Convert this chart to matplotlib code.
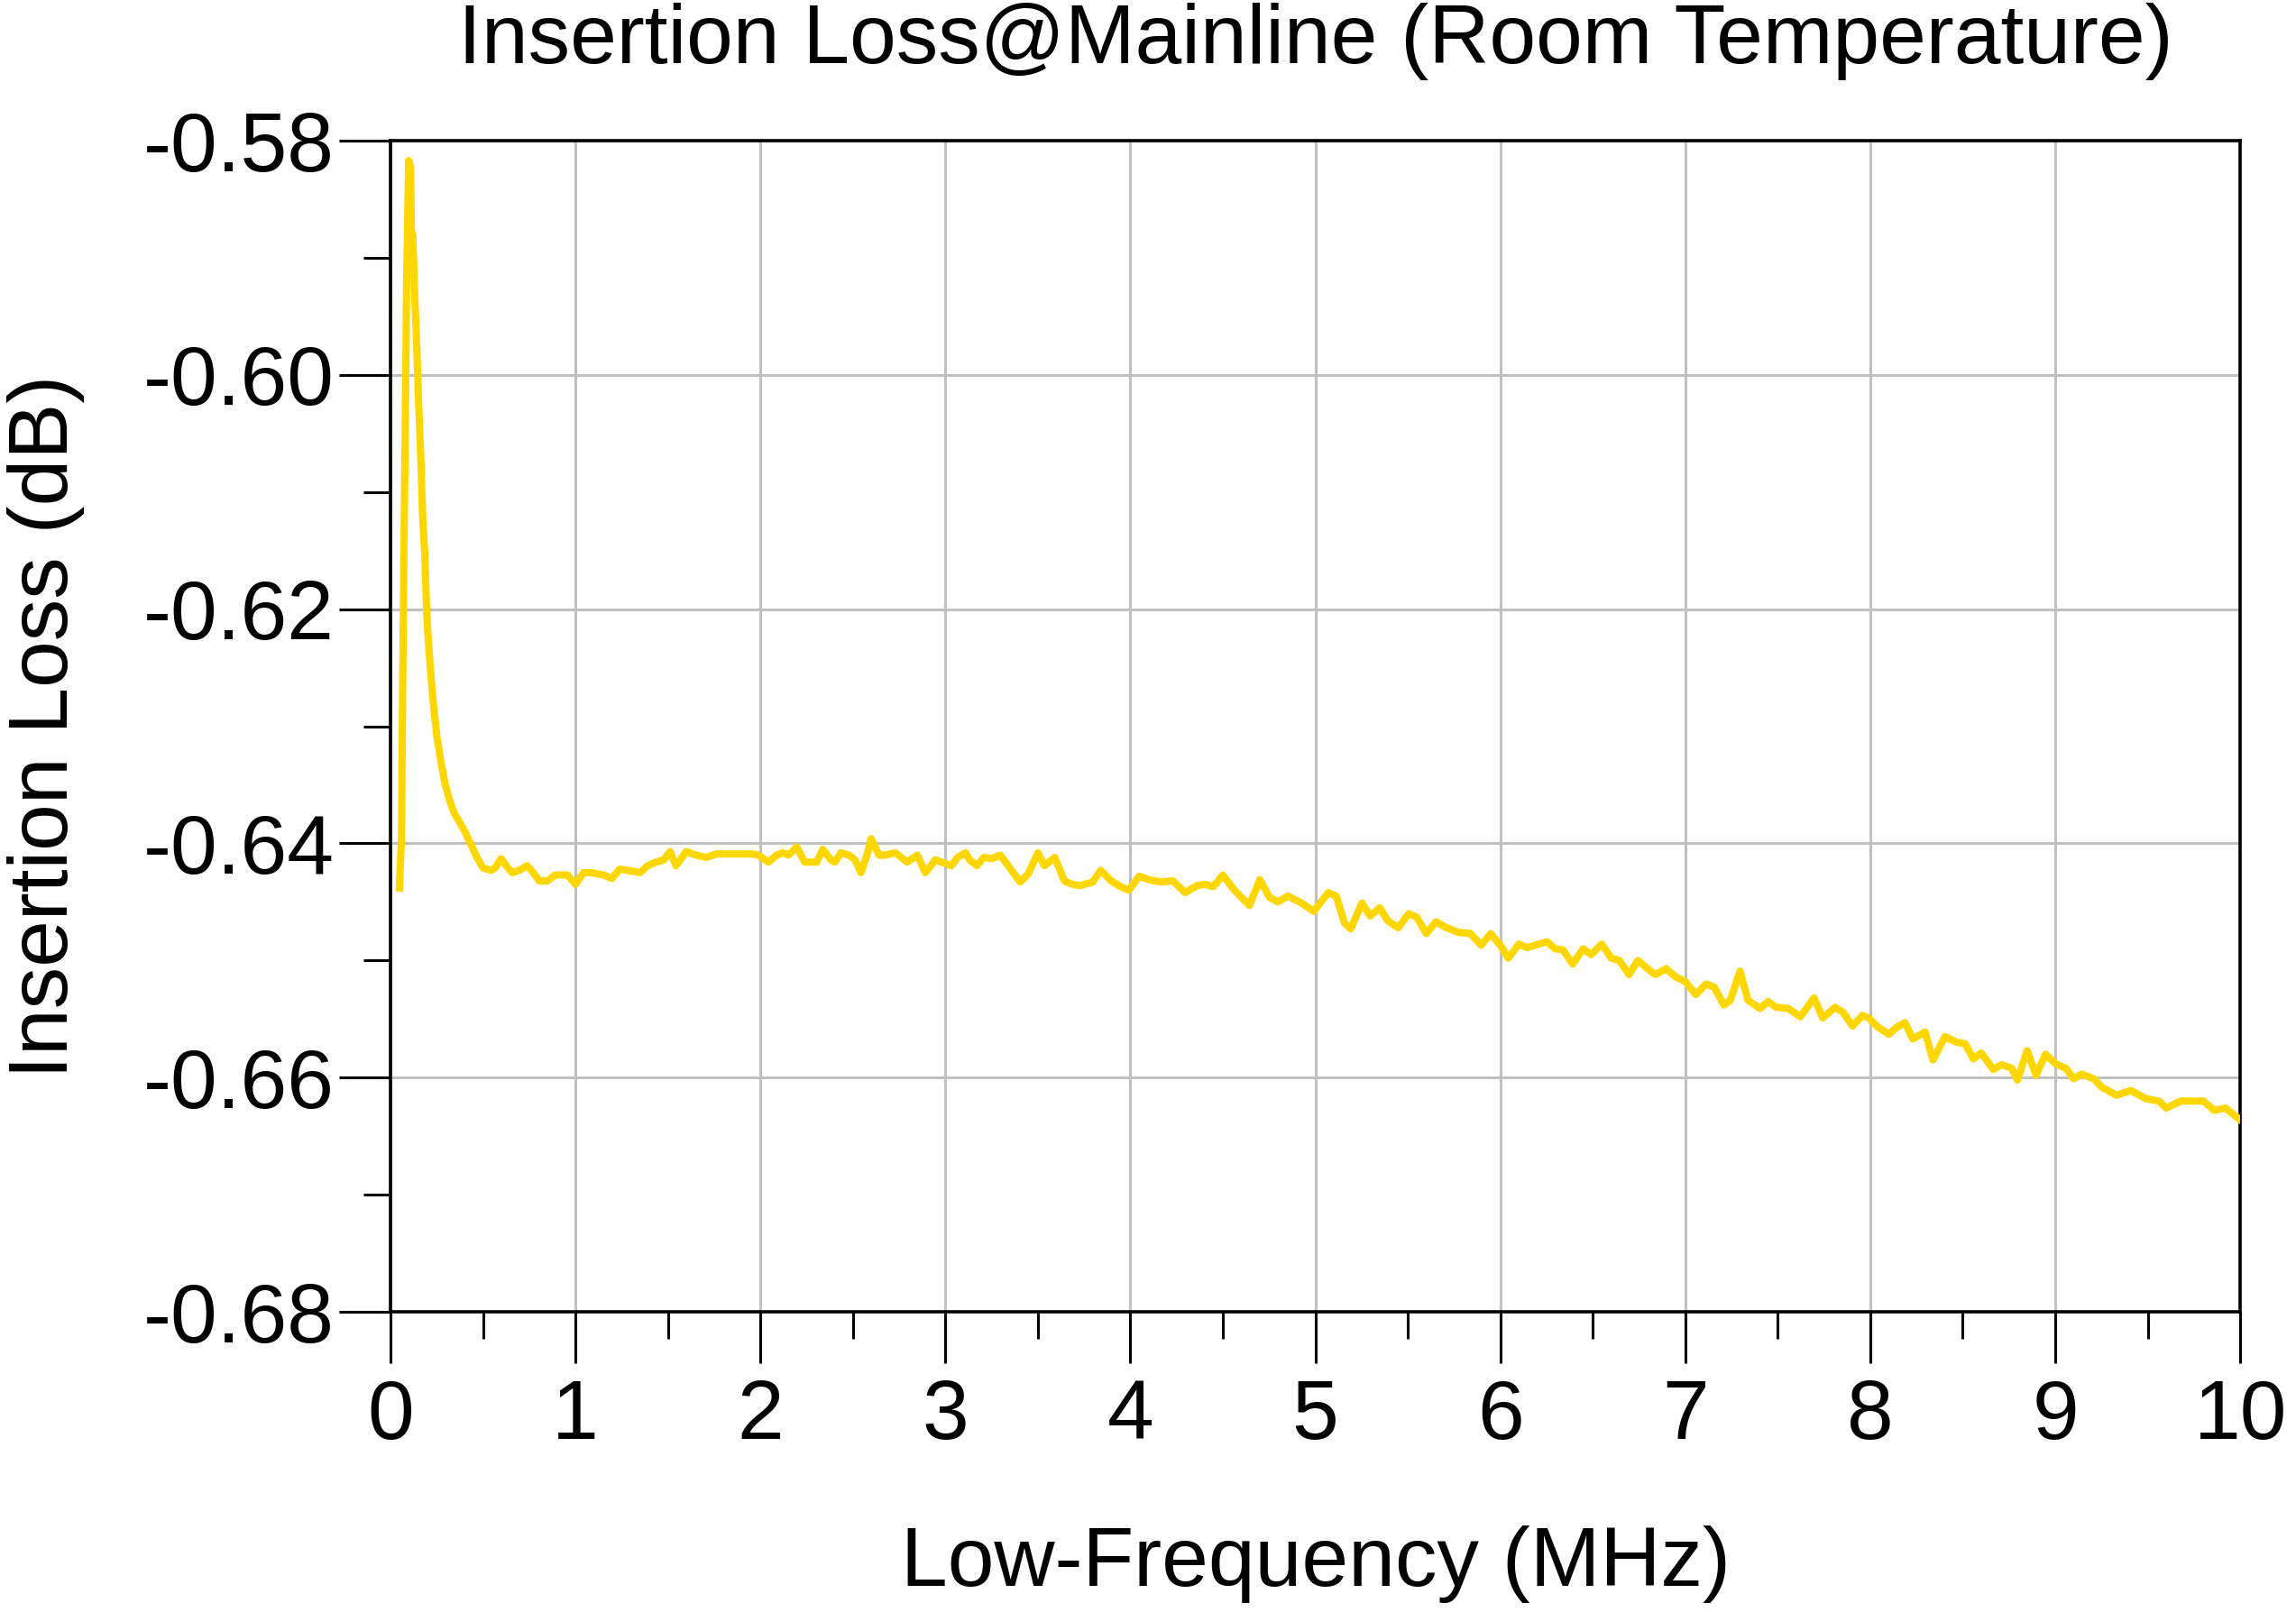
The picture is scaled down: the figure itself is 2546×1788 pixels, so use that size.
import matplotlib
matplotlib.use("Agg")
import matplotlib.pyplot as plt
from matplotlib.ticker import MultipleLocator, FormatStrFormatter

# --- данные (частота в МГц, потери в дБ) ---
# начальный выброс и участок 0..3.2 МГц
freq_low = [0.048, 0.059, 0.065, 0.072, 0.080, 0.087, 0.098, 0.109, 0.114, 0.120,
            0.130, 0.141, 0.152, 0.163, 0.174, 0.185, 0.196, 0.207, 0.222, 0.235,
            0.250, 0.272, 0.293, 0.315, 0.343, 0.370, 0.402, 0.435, 0.467, 0.500,
            0.543, 0.565, 0.598, 0.626, 0.657, 0.696, 0.739, 0.772, 0.804, 0.848,
            0.891, 0.957, 1.000, 1.043, 1.087, 1.152, 1.196, 1.239, 1.283, 1.348,
            1.391, 1.435, 1.478, 1.511, 1.543, 1.576, 1.598, 1.652, 1.707, 1.761,
            1.804, 1.957, 1.989, 2.043, 2.087, 2.120, 2.152, 2.196, 2.239, 2.261,
            2.304, 2.337, 2.380, 2.402, 2.435, 2.478, 2.511, 2.543, 2.576, 2.598,
            2.641, 2.674, 2.728, 2.761, 2.793, 2.848, 2.891, 2.946, 2.978, 3.033,
            3.065, 3.109, 3.130, 3.170, 3.207]
loss_low = [-0.6438, -0.6396, -0.6277, -0.6158, -0.6038, -0.5919, -0.5817, -0.5823, -0.5900, -0.5880,
            -0.5930, -0.5972, -0.6025, -0.6069, -0.6122, -0.6153, -0.6206, -0.6233, -0.6264, -0.6286,
            -0.6308, -0.6330, -0.6348, -0.6361, -0.6374, -0.6381, -0.6390, -0.6401, -0.6412, -0.6421,
            -0.6423, -0.6421, -0.6413, -0.6419, -0.6425, -0.6423, -0.6419, -0.6425, -0.6432, -0.6432,
            -0.6427, -0.6427, -0.6435, -0.6425, -0.6425, -0.6427, -0.6430, -0.6422, -0.6423, -0.6425,
            -0.6419, -0.6416, -0.6414, -0.6407, -0.6419, -0.6412, -0.6407, -0.6410, -0.6412, -0.6409,
            -0.6409, -0.6409, -0.6410, -0.6416, -0.6410, -0.6408, -0.6410, -0.6403, -0.6416, -0.6416,
            -0.6416, -0.6405, -0.6414, -0.6416, -0.6408, -0.6410, -0.6414, -0.6425, -0.6410, -0.6396,
            -0.6410, -0.6410, -0.6408, -0.6412, -0.6416, -0.6410, -0.6425, -0.6414, -0.6416, -0.6419,
            -0.6412, -0.6408, -0.6414, -0.6419, -0.6412]

# участок 3.25..9.2 МГц
freq_mid = [3.252, 3.296, 3.339, 3.404, 3.448, 3.500, 3.535, 3.591, 3.643, 3.687,
            3.730, 3.796, 3.839, 3.896, 3.948, 3.991, 4.048, 4.100, 4.165, 4.230,
            4.296, 4.361, 4.404, 4.448, 4.500, 4.557, 4.643, 4.700, 4.752, 4.796,
            4.852, 4.926, 4.991, 5.070, 5.113, 5.157, 5.191, 5.252, 5.296, 5.348,
            5.391, 5.448, 5.504, 5.548, 5.600, 5.652, 5.709, 5.774, 5.839, 5.896,
            5.948, 6.000, 6.043, 6.100, 6.143, 6.187, 6.252, 6.296, 6.339, 6.391,
            6.448, 6.491, 6.548, 6.600, 6.643, 6.696, 6.743, 6.796, 6.839, 6.896,
            6.948, 7.000, 7.057, 7.113, 7.157, 7.209, 7.243, 7.296, 7.339, 7.404,
            7.448, 7.491, 7.557, 7.622, 7.696, 7.743, 7.809, 7.852, 7.904, 7.957,
            7.991, 8.035, 8.100, 8.143, 8.187, 8.230, 8.296, 8.339, 8.404, 8.470,
            8.513, 8.557, 8.600, 8.665, 8.709, 8.765, 8.796, 8.848, 8.896, 8.948,
            9.000, 9.057, 9.100, 9.143, 9.209]
loss_mid = [-0.6413, -0.6410, -0.6419, -0.6433, -0.6426, -0.6408, -0.6419, -0.6412, -0.6432, -0.6435,
            -0.6436, -0.6433, -0.6423, -0.6432, -0.6437, -0.6440, -0.6428, -0.6431, -0.6433, -0.6432,
            -0.6442, -0.6436, -0.6435, -0.6437, -0.6427, -0.6439, -0.6453, -0.6431, -0.6446, -0.6450,
            -0.6445, -0.6451, -0.6458, -0.6442, -0.6445, -0.6468, -0.6473, -0.6451, -0.6462, -0.6455,
            -0.6466, -0.6472, -0.6460, -0.6463, -0.6477, -0.6467, -0.6472, -0.6476, -0.6477, -0.6487,
            -0.6477, -0.6487, -0.6498, -0.6486, -0.6489, -0.6487, -0.6484, -0.6490, -0.6491, -0.6503,
            -0.6490, -0.6495, -0.6486, -0.6498, -0.6500, -0.6512, -0.6500, -0.6507, -0.6512, -0.6507,
            -0.6514, -0.6518, -0.6529, -0.6520, -0.6523, -0.6538, -0.6534, -0.6509, -0.6534, -0.6541,
            -0.6535, -0.6540, -0.6541, -0.6548, -0.6532, -0.6549, -0.6540, -0.6544, -0.6556, -0.6547,
            -0.6549, -0.6556, -0.6563, -0.6557, -0.6553, -0.6567, -0.6561, -0.6585, -0.6565, -0.6570,
            -0.6571, -0.6584, -0.6579, -0.6593, -0.6589, -0.6592, -0.6602, -0.6577, -0.6598, -0.6580,
            -0.6588, -0.6592, -0.6601, -0.6597, -0.6601]

# хвост 9.25..10 МГц
freq_high = [9.25, 9.33, 9.41, 9.49, 9.56, 9.60, 9.68, 9.80, 9.86, 9.92, 10.0]
loss_high = [-0.6608, -0.6615, -0.6611, -0.6618, -0.6620, -0.6626, -0.6620, -0.6620, -0.6628, -0.6626, -0.6636]

freq = freq_low + freq_mid + freq_high
loss = loss_low + loss_mid + loss_high

plt.rcParams['font.family'] = ['Liberation Sans', 'DejaVu Sans']
plt.rcParams['axes.unicode_minus'] = False
FS = 33.5

fig = plt.figure(figsize=(12.73, 8.94), dpi=200)
ax = fig.add_axes([0.1701, 0.1862, 0.8056, 0.7265])

ax.plot(freq, loss, color='#FFD700', lw=2.9, zorder=3)

ax.set_xlim(0, 10)
ax.set_ylim(-0.68, -0.58)
ax.xaxis.set_major_locator(MultipleLocator(1))
ax.xaxis.set_minor_locator(MultipleLocator(0.5))
ax.yaxis.set_major_locator(MultipleLocator(0.02))
ax.yaxis.set_minor_locator(MultipleLocator(0.01))
ax.yaxis.set_major_formatter(FormatStrFormatter('%.2f'))

ax.grid(True, which='major', color='#c0c0c0', lw=1.1)
ax.tick_params(which='major', length=20.5, width=1.1, labelsize=FS, direction='out')
ax.tick_params(which='minor', length=10.8, width=1.1, direction='out')
ax.tick_params(axis='y', which='major', pad=1.8)
ax.tick_params(axis='x', which='major', pad=6)
for s in ax.spines.values():
    s.set_linewidth(1.3)

ax.set_title("Insertion Loss@Mainline (Room Temperature)", fontsize=FS, pad=31)
ax.set_xlabel("Low-Frequency (MHz)", fontsize=FS, va='baseline')
ax.xaxis.set_label_coords(0.5, -0.234)
ax.set_ylabel("Insertion Loss (dB)", fontsize=FS, va='baseline')
ax.yaxis.set_label_coords(-0.1746, 0.5)

fig.savefig("out.png", dpi=200)
